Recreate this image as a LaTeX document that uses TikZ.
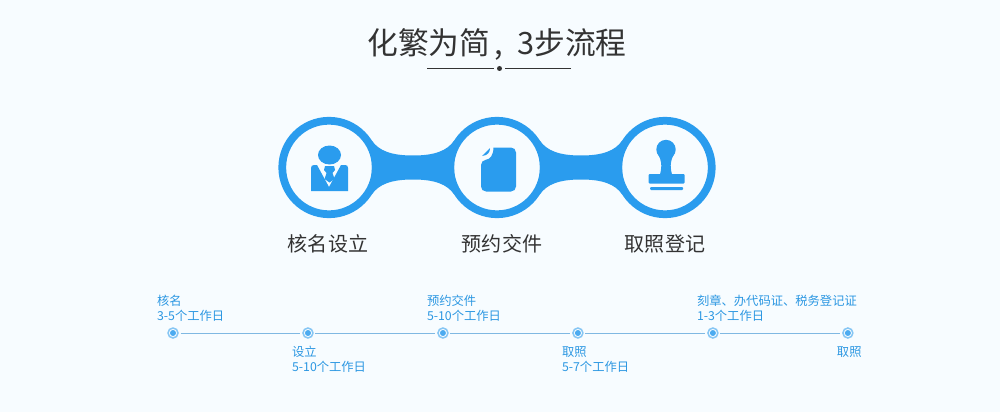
\documentclass[tikz,border=0pt]{standalone}
\usepackage{fontspec}
\usepackage{tikz}
\usetikzlibrary{calc}
\setmainfont{Noto Sans CJK SC}

\definecolor{pagebg}{HTML}{F7FCFF}
\definecolor{stepblue}{HTML}{2A9CEE}
\definecolor{ticktextblue}{HTML}{2B97E2}
\definecolor{tickring}{HTML}{86C6F4}
\definecolor{tickline}{HTML}{7FB8E2}
\definecolor{tickcore}{HTML}{4CABF0}
\definecolor{titlegray}{HTML}{333333}

\tikzset{
  stepring/.style={circle,draw=stepblue,fill=pagebg,line width=0.155cm,minimum size=1.87cm,inner sep=0pt},
  steplabel/.style={text=titlegray,font=\fontsize{11.4}{14}\selectfont},
  tickdot/.style={circle,draw=tickring,fill=pagebg,line width=0.03cm,minimum size=0.2cm,inner sep=0pt,outer sep=0.05cm},
  toptext/.style={anchor=south west,align=left,inner sep=0pt,text=ticktextblue,font=\fontsize{7}{8.5}\selectfont,xshift=-0.325cm,yshift=0.23cm},
  bottext/.style={anchor=north west,align=left,inner sep=0pt,text=ticktextblue,font=\fontsize{7}{8.5}\selectfont,xshift=-0.325cm,yshift=-0.26cm}
}

\begin{document}
\begin{tikzpicture}[x=0.02cm,y=-0.02cm,node distance=2.7cm]
    \useasboundingbox[fill=pagebg] (0,0) rectangle (1000,412);

    %% title
    \node[text=titlegray,font=\fontsize{17.5}{22}\selectfont,inner sep=0pt] (title) at (497,44.5) {化繁为简\hspace{2.5pt},\hspace{8pt}3步流程};
    \node[circle,fill=titlegray,inner sep=0pt,minimum size=0.1cm] (mid) at (499.5,68.5) {};
    \coordinate (ruleleft) at (427,68.5);
    \coordinate (ruleright) at (571,68.5);
    \draw[titlegray,line width=0.02cm,shorten >=0.11cm] (ruleleft) -- (mid.center);
    \draw[titlegray,line width=0.02cm,shorten >=0.11cm] (ruleright) -- (mid.center);

    %% steps
    \node[stepring] (s1) at (329,167.5) {};
    \node[stepring] (s2) at (497,167.5) {};
    \node[stepring] (s3) at (665,167.5) {};
    \node[steplabel] (n1) at (328,244) {核名设立};
    \node[steplabel] (n2) at (502,244) {预约交件};
    \node[steplabel] (n3) at (665,244) {取照登记};

    %% bridges
    \foreach \a/\b in {s1/s2,s2/s3}
      \fill[stepblue] (\a.32) .. controls +(7,10) and +(-22,0) .. ($(\a)!0.5!(\b)+(0,-12)$)
        .. controls +(22,0) and +(-7,10) .. (\b.148) -- (\b.212)
        .. controls +(-7,-10) and +(22,0) .. ($(\a)!0.5!(\b)+(0,12)$)
        .. controls +(-22,0) and +(7,-10) .. (\a.-32) -- cycle;

    %% person
    \fill[stepblue] (329.5,155) ellipse [x radius=11.5,y radius=9.5];
    \fill[stepblue] (311,168) .. controls (311,166) and (312,165) .. (314,165) -- (317,165) -- (329,187) -- (341,165) -- (345,165)
      .. controls (347,165) and (348,166) .. (348,168) -- (348,191) -- (311,191) -- cycle;
    \fill[stepblue] (325,166) -- (334,166) -- (335,170) -- (332.5,173) -- (334.5,179) -- (329.5,182.5) -- (324.5,179) -- (326.5,173) -- (324,170) -- cycle;

    %% document
    \fill[stepblue,rounded corners=0.1cm] (493.5,147.5) -- (516,147.5) -- (516,191.5) -- (481,191.5) -- (481,160) [sharp corners] .. controls (490,159.5) and (493.5,155) .. (493.5,147.5) -- cycle;
    \fill[stepblue] (482,156) -- (490,148) .. controls (490,152) and (488,155.5) .. (482,156) -- cycle;

    %% stamp
    \fill[stepblue] (666,149.5) circle [radius=9.7];
    \fill[stepblue] (658.5,155) .. controls (661,160) and (662.5,165) .. (660,174.5) -- (672,174.5) .. controls (669.5,165) and (671,160) .. (673.5,155) -- cycle;
    \fill[stepblue,rounded corners=0.02cm] (648.5,174) rectangle (684.5,183.5);
    \fill[stepblue,rounded corners=0.02cm] (650,187) rectangle (683,190);

    %% timeline
    \node[tickdot] (t1) at (173,333) {};
    \node[tickdot,right of=t1] (t2) {};
    \node[tickdot,right of=t2] (t3) {};
    \node[tickdot,right of=t3] (t4) {};
    \node[tickdot,right of=t4] (t5) {};
    \node[tickdot,right of=t5] (t6) {};
    \foreach \a/\b in {t1/t2,t2/t3,t3/t4,t4/t5,t5/t6}
      \draw[tickline,line width=0.02cm] (\a) -- (\b);
    \foreach \a in {t1,t2,t3,t4,t5,t6}
      \fill[tickcore] (\a) circle [radius=3];

    \node[toptext] (l1) at (t1) {核名\\3-5个工作日};
    \node[bottext] (l2) at (t2) {设立\\5-10个工作日};
    \node[toptext] (l3) at (t3) {预约交件\\5-10个工作日};
    \node[bottext] (l4) at (t4) {取照\\5-7个工作日};
    \node[toptext] (l5) at (t5) {刻章、办代码证、税务登记证\\1-3个工作日};
    \node[bottext,xshift=0.1cm] (l6) at (t6) {取照};
\end{tikzpicture}
\end{document}
